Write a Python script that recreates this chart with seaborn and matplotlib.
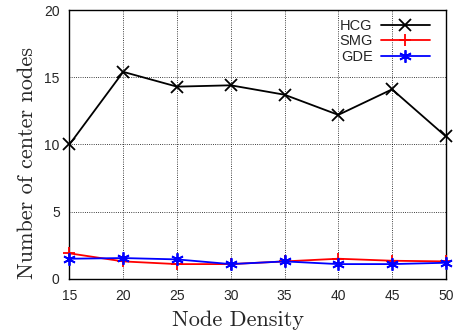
import numpy as np
import pandas as pd
import matplotlib
matplotlib.use("Agg")
import matplotlib.pyplot as plt
import seaborn as sns

# values
node_density = [15, 20, 25, 30, 35, 40, 45, 50]
hcg = [10.0, 15.4, 14.3, 14.4, 13.7, 12.2, 14.1, 10.6]
smg = [1.9, 1.3, 1.1, 1.1, 1.3, 1.5, 1.35, 1.3]
gde = [1.5, 1.55, 1.45, 1.1, 1.3, 1.1, 1.1, 1.2]

series = [
    ("HCG", hcg, "black", "x"),
    ("SMG", smg, "red", "+"),
    ("GDE", gde, "blue", (6, 2, 0)),
]

sns.set_style("white")
plt.rcParams["font.family"] = ["Liberation Sans", "DejaVu Sans"]

fig = plt.figure(figsize=(4.54, 3.34), dpi=100)
ax = fig.add_axes([0.153, 0.165, 0.829, 0.805])

for name, vals, color, marker in series:
    df = pd.DataFrame({"x": node_density, "y": vals})
    sns.lineplot(data=df, x="x", y="y", ax=ax, color=color, marker=marker,
                 markersize=9, markeredgewidth=1.3, markeredgecolor=color,
                 linewidth=1.3, label=name, clip_on=False, zorder=3)

ax.set_xlim(15, 50)
ax.set_ylim(0, 20)
ax.set_xticks(node_density)
ax.set_yticks([0, 5, 10, 15, 20])
ax.grid(True, color="black", linestyle=":", linewidth=0.6)
for s in ax.spines.values():
    s.set_color("black")
    s.set_linewidth(1.0)
ax.tick_params(direction="in", length=4, width=0.8, labelsize=10, pad=7)

ax.set_xlabel("Node Density", fontfamily="cmr10", fontsize=16, labelpad=4)
ax.set_ylabel("Number of center nodes", fontfamily="cmr10", fontsize=16, labelpad=5)
ax.xaxis.set_label_coords(0.447, -0.118)
ax.yaxis.label.set_y(0.43)

leg = ax.legend(loc="upper right", frameon=False, markerfirst=False,
                fontsize=10.5, handlelength=3.3, handletextpad=0.6,
                labelspacing=0.1, borderaxespad=0.2, bbox_to_anchor=(0.98, 1.0))

fig.savefig("out.png", dpi=100)
